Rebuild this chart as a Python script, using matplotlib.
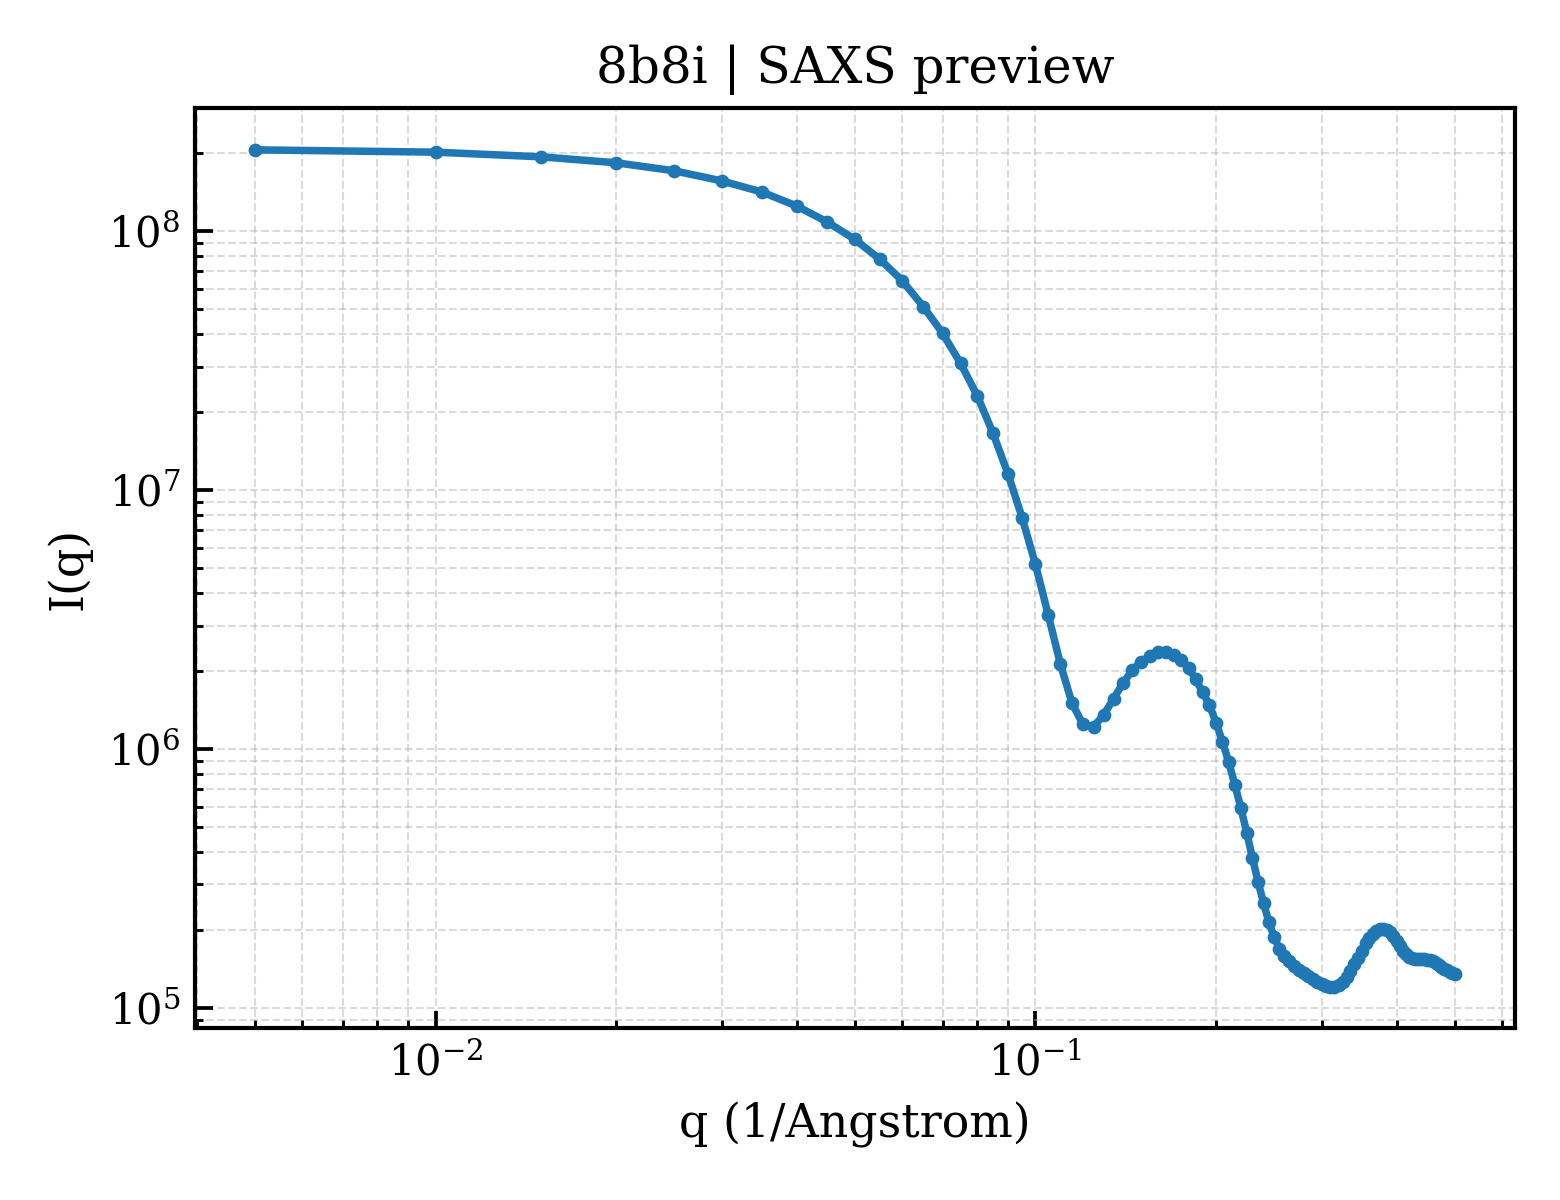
import numpy as np
import matplotlib
matplotlib.use("Agg")
import matplotlib.pyplot as plt

# q grid: 0.005 .. 0.5 step 0.005
q = np.round(np.arange(1, 101) * 0.005, 3)

# log10 I(q)
log_i = [
    8.314, 8.305, 8.287, 8.264, 8.233, 8.194, 8.151, 8.097, 8.035, 7.968,
    7.892, 7.808, 7.709, 7.606, 7.490, 7.364, 7.219, 7.062, 6.894, 6.713,
    6.519, 6.330, 6.179, 6.095, 6.086, 6.133, 6.195, 6.256, 6.304, 6.338,
    6.359, 6.375, 6.376, 6.363, 6.343, 6.313, 6.269, 6.220, 6.170, 6.102,
    6.028, 5.950, 5.861, 5.773, 5.677, 5.580, 5.487, 5.406, 5.331, 5.274,
    5.229, 5.202, 5.180, 5.163, 5.148, 5.135, 5.124, 5.112, 5.101, 5.093,
    5.086, 5.083, 5.083, 5.089, 5.101, 5.120, 5.142, 5.170, 5.192, 5.222,
    5.250, 5.270, 5.287, 5.299, 5.306, 5.307, 5.302, 5.292, 5.277, 5.258,
    5.238, 5.222, 5.209, 5.198, 5.192, 5.190, 5.189, 5.189, 5.188, 5.187,
    5.184, 5.180, 5.175, 5.168, 5.160, 5.152, 5.146, 5.140, 5.136, 5.132,
]
intensity = 10 ** np.array(log_i)

plt.rcParams['font.family'] = 'serif'
plt.rcParams['font.serif'] = ['DejaVu Serif']
plt.rcParams['xtick.direction'] = 'in'
plt.rcParams['ytick.direction'] = 'in'

fig, ax = plt.subplots(figsize=(5.2, 4), dpi=300)
fig.subplots_adjust(left=0.125, right=0.971, bottom=0.143, top=0.91)

ax.plot(q, intensity, marker='o', markersize=2.3, linewidth=1.8, color='#1f77b4')
ax.set_xscale('log')
ax.set_yscale('log')

ax.set_title('8b8i | SAXS preview', fontsize=12)
ax.set_xlabel('q (1/Angstrom)', fontsize=11)
ax.set_ylabel('I(q)', fontsize=11)
ax.tick_params(labelsize=10)
ax.tick_params(which='major', length=4.2, width=0.9)
ax.tick_params(which='minor', length=2, width=0.7)
for s in ax.spines.values():
    s.set_linewidth(1.0)

ax.grid(True, which='both', linestyle='--', linewidth=0.5, alpha=0.45)

fig.savefig('out.png', dpi=300)
